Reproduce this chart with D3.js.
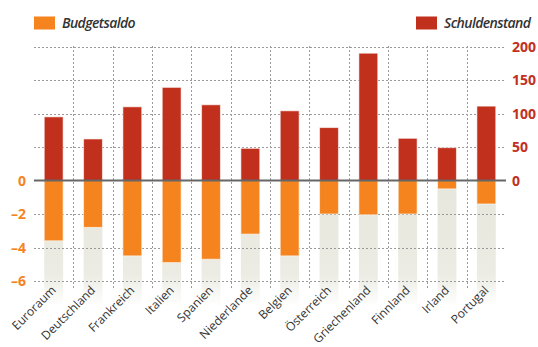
<!DOCTYPE html>
<html>
<head>
<meta charset="utf-8">
<script src="https://cdn.jsdelivr.net/npm/d3@7"></script>
<style>
    body { margin: 0; background: #fff; }
    text { font-family: "Open Sans", sans-serif; }
</style>
</head>
<body>
<div id="chart"></div>
<script>
var countries = ["Euroraum", "Deutschland", "Frankreich", "Italien", "Spanien", "Niederlande",
    "Belgien", "Österreich", "Griechenland", "Finnland", "Irland", "Portugal"];
var budgetBalance = [-3.6, -2.8, -4.5, -4.9, -4.7, -3.2, -4.5, -2.0, -2.05, -2.0, -0.5, -1.4];
var debtLevel = [95, 62, 110, 139, 113, 48, 104, 79, 190, 63, 49, 111];
var leftTicks = [0, -2, -4, -6];
var rightTicks = [0, 50, 100, 150, 200];
var legendLabels = ["Budgetsaldo", "Schuldenstand"];

var orange = "#f5841f";
var red = "#c1301c";

var svg = d3.select("#chart").append("svg")
    .attr("width", 538)
    .attr("height", 347);

var x = d3.scaleBand()
    .domain(countries)
    .range([34, 506])
    .paddingInner(0.52)
    .paddingOuter(0.26);

var yLeft = d3.scaleLinear().domain([-6, 0]).range([281, 180.5]);
var yRight = d3.scaleLinear().domain([0, 200]).range([180.5, 46.5]);

// gray fading columns behind the budget bars
var grad = svg.append("defs").append("linearGradient")
    .attr("id", "fade")
    .attr("gradientUnits", "userSpaceOnUse")
    .attr("x1", 0).attr("y1", yLeft(0))
    .attr("x2", 0).attr("y2", 306);
grad.append("stop").attr("offset", "0").attr("stop-color", "#e6e6dc");
grad.append("stop").attr("offset", "0.75").attr("stop-color", "#ecece4");
grad.append("stop").attr("offset", "1").attr("stop-color", "#ffffff");

svg.append("g").selectAll("rect")
    .data(countries)
    .enter().append("rect")
    .attr("x", function (d) { return x(d); })
    .attr("width", x.bandwidth())
    .attr("y", yLeft(0))
    .attr("height", 306 - yLeft(0))
    .attr("fill", "url(#fade)");

// grid
var grid = svg.append("g")
    .attr("stroke", "#9a9a9a")
    .attr("stroke-width", 1)
    .attr("stroke-dasharray", "2,2");

grid.selectAll("line.h")
    .data(rightTicks.filter(function (d) { return d > 0; }).map(yRight)
        .concat(leftTicks.filter(function (d) { return d < 0; }).map(yLeft)))
    .enter().append("line")
    .attr("class", "h")
    .attr("x1", 34).attr("x2", 506)
    .attr("y1", function (d) { return Math.round(d) + 0.5; })
    .attr("y2", function (d) { return Math.round(d) + 0.5; });

var step = x.step();
grid.selectAll("line.v")
    .data(countries.slice(1))
    .enter().append("line")
    .attr("class", "v")
    .attr("x1", function (d) { return Math.round(x(d) - step * 0.26) + 0.5; })
    .attr("x2", function (d) { return Math.round(x(d) - step * 0.26) + 0.5; })
    .attr("y1", 46).attr("y2", 290);

// bars
svg.append("g").selectAll("rect")
    .data(budgetBalance)
    .enter().append("rect")
    .attr("x", function (d, i) { return x(countries[i]); })
    .attr("width", x.bandwidth())
    .attr("y", yLeft(0))
    .attr("height", function (d) { return yLeft(d) - yLeft(0); })
    .attr("fill", orange)
    .attr("stroke", "#fff")
    .attr("stroke-opacity", 0.6)
    .attr("stroke-width", 1);

svg.append("g").selectAll("rect")
    .data(debtLevel)
    .enter().append("rect")
    .attr("x", function (d, i) { return x(countries[i]); })
    .attr("width", x.bandwidth())
    .attr("y", function (d) { return yRight(d); })
    .attr("height", function (d) { return yRight(0) - yRight(d); })
    .attr("fill", red)
    .attr("stroke", "#fff")
    .attr("stroke-opacity", 0.6)
    .attr("stroke-width", 1);

// zero line
svg.append("line")
    .attr("x1", 34).attr("x2", 506)
    .attr("y1", yLeft(0)).attr("y2", yLeft(0))
    .attr("stroke", "#666")
    .attr("stroke-width", 2);

// axes labels
svg.append("g").selectAll("text")
    .data(leftTicks)
    .enter().append("text")
    .attr("x", 26)
    .attr("y", function (d) { return yLeft(d); })
    .attr("dy", "0.36em")
    .attr("text-anchor", "end")
    .attr("fill", orange)
    .attr("font-size", 14)
    .attr("font-weight", 700)
    .text(function (d) { return d < 0 ? "\u2013" + Math.abs(d) : d; });

svg.append("g").selectAll("text")
    .data(rightTicks)
    .enter().append("text")
    .attr("x", 512)
    .attr("y", function (d) { return yRight(d); })
    .attr("dy", "0.36em")
    .attr("fill", red)
    .attr("font-size", 14)
    .attr("font-weight", 700)
    .text(function (d) { return d; });

// category labels
svg.append("g").selectAll("text")
    .data(countries)
    .enter().append("text")
    .attr("transform", function (d) {
        return "translate(" + (x(d) + x.bandwidth() / 2 + 3) + ",291) rotate(-45)";
    })
    .attr("text-anchor", "end")
    .attr("fill", "#333")
    .attr("font-size", 12)
    .text(function (d) { return d; });

// legend
var legend = [
    { label: legendLabels[0], color: orange, x: 34 },
    { label: legendLabels[1], color: red, x: 416 }
];
var lg = svg.append("g").selectAll("g")
    .data(legend)
    .enter().append("g")
    .attr("transform", function (d) { return "translate(" + d.x + ",16.5)"; });
lg.append("rect")
    .attr("width", 21).attr("height", 13)
    .attr("fill", function (d) { return d.color; });
lg.append("text")
    .attr("x", 28).attr("y", 11.5)
    .attr("fill", "#333")
    .attr("font-size", 14)
    .attr("font-weight", 600)
    .attr("font-style", "italic")
    .attr("letter-spacing", -0.6)
    .text(function (d) { return d.label; });
</script>
</body>
</html>
